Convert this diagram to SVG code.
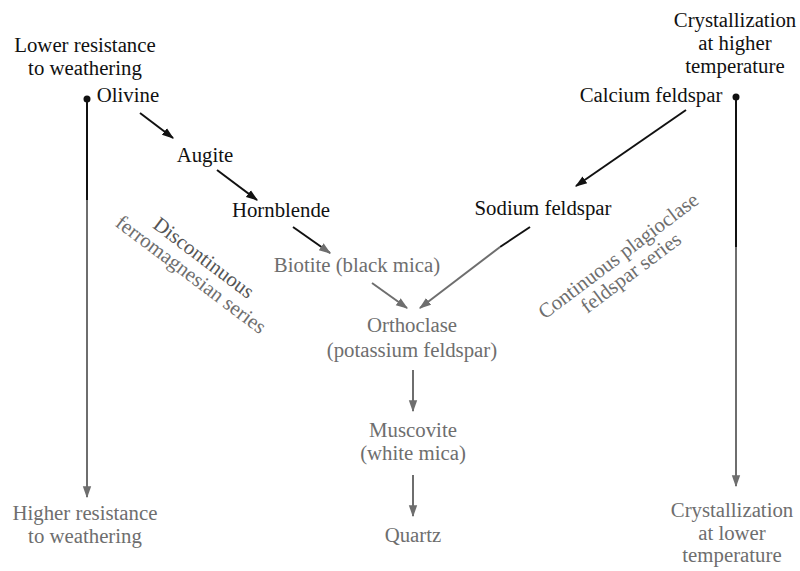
<svg xmlns="http://www.w3.org/2000/svg" width="800" height="571" viewBox="0 0 800 571">
<defs>
<style>
text{font-family:"Liberation Serif","Times New Roman",serif;font-size:20.8px;text-anchor:middle}
.k{fill:#111}
.g{fill:#6e6e6e}
.lk{stroke:#111;stroke-width:2;fill:none}
.lg{stroke:#6e6e6e;stroke-width:2;fill:none}
</style>
<marker id="ak" viewBox="0 0 10 10" refX="9" refY="5" markerWidth="6" markerHeight="6" orient="auto"><path d="M0,1.5 L10,5 L0,8.5 Z" fill="#111"/></marker>
<marker id="ag" viewBox="0 0 10 10" refX="9" refY="5" markerWidth="6" markerHeight="6" orient="auto"><path d="M0,1.5 L10,5 L0,8.5 Z" fill="#6e6e6e"/></marker>
</defs>
<rect width="800" height="571" fill="#fff"/>
<g id="connectors">
<line class="lk" x1="140" y1="113" x2="173" y2="138" marker-end="url(#ak)"/>
<line class="lk" x1="217" y1="170" x2="257" y2="200" marker-end="url(#ak)"/>
<line class="lk" x1="293" y1="227" x2="330" y2="253" marker-end="url(#ag)"/>
<line class="lg" x1="372" y1="283" x2="407" y2="308" marker-end="url(#ag)"/>
<line class="lk" x1="686" y1="110" x2="576" y2="186" marker-end="url(#ak)"/>
<line class="lk" x1="530" y1="227" x2="500" y2="247"/>
<line class="lg" x1="500" y1="247" x2="420" y2="308" marker-end="url(#ag)"/>
<line class="lg" x1="413" y1="370" x2="413" y2="411" marker-end="url(#ag)"/>
<line class="lg" x1="413" y1="475" x2="413" y2="516" marker-end="url(#ag)"/>
<circle cx="87" cy="99" r="3.5" fill="#111"/>
<line class="lk" x1="87" y1="99" x2="87" y2="200"/>
<line class="lg" x1="87" y1="200" x2="87" y2="497" marker-end="url(#ag)"/>
<circle cx="736" cy="97" r="3.5" fill="#111"/>
<line class="lk" x1="736" y1="97" x2="736" y2="247" stroke-width="3"/>
<line class="lg" x1="736" y1="247" x2="736" y2="486" marker-end="url(#ag)"/>
</g>
<g id="lower-resistance"><text class="k" x="85" y="52">Lower resistance</text><text class="k" x="85" y="75">to weathering</text></g>
<g id="olivine"><text class="k" x="128" y="102">Olivine</text></g>
<g id="augite"><text class="k" x="205" y="162">Augite</text></g>
<g id="hornblende"><text class="k" x="281" y="217">Hornblende</text></g>
<g id="biotite"><text class="g" x="357" y="272">Biotite (black mica)</text></g>
<g id="orthoclase"><text class="g" x="412" y="332">Orthoclase</text><text class="g" x="412" y="357">(potassium feldspar)</text></g>
<g id="muscovite"><text class="g" x="413" y="437">Muscovite</text><text class="g" x="413" y="460">(white mica)</text></g>
<g id="quartz"><text class="g" x="413" y="542">Quartz</text></g>
<g id="higher-resistance"><text class="g" x="85" y="520">Higher resistance</text><text class="g" x="85" y="543">to weathering</text></g>
<g id="cryst-higher"><text class="k" x="735" y="27">Crystallization</text><text class="k" x="735" y="50">at higher</text><text class="k" x="735" y="73">temperature</text></g>
<g id="calcium"><text class="k" x="651" y="102">Calcium feldspar</text></g>
<g id="sodium"><text class="k" x="543" y="215">Sodium feldspar</text></g>
<g id="cryst-lower"><text class="g" x="732" y="517">Crystallization</text><text class="g" x="732" y="540">at lower</text><text class="g" x="732" y="562">temperature</text></g>
<g id="discontinuous" transform="translate(196,268) rotate(37)"><text class="g" x="0" y="-6" style="fill:#555">Discontinuous</text><text class="g" x="0" y="15">ferromagnesian series</text></g>
<g id="continuous" transform="translate(626,266) rotate(-37)"><text class="g" x="0" y="-6">Continuous plagioclase</text><text class="g" x="0" y="15">feldspar series</text></g>
</svg>
